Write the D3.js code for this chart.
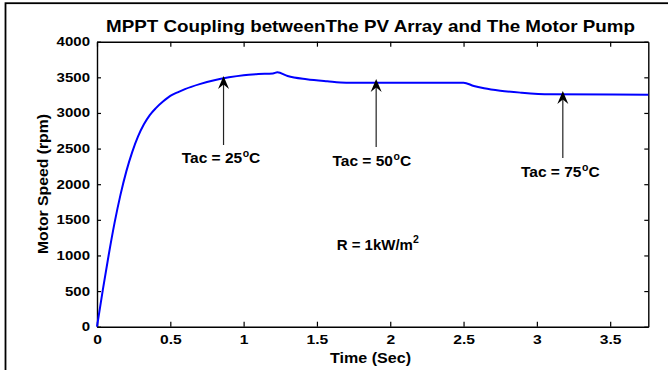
<!DOCTYPE html>
<html>
<head>
<meta charset="utf-8">
<script src="https://cdn.jsdelivr.net/npm/d3@7"></script>
<style>
  body { margin: 0; background: #fff; }
  text { font-family: "Liberation Sans", Arial, sans-serif; font-weight: bold; fill: #000; }
</style>
</head>
<body>
<svg id="mppt-chart" width="668" height="370"></svg>
<script>
//Motor speed response (time in sec, speed in rpm)
const timeSec = [0, 0.04, 0.08, 0.12, 0.16, 0.2, 0.24, 0.28, 0.32, 0.36, 0.4, 0.45, 0.5, 0.55, 0.6, 0.7, 0.8, 0.9, 1.0, 1.1, 1.2, 1.23, 1.3, 1.43, 1.57, 1.7, 2.0, 2.5, 2.57, 2.64, 2.75, 2.89, 3.09, 3.76];
const speedRpm = [0, 520, 1010, 1460, 1850, 2180, 2450, 2670, 2840, 2970, 3065, 3160, 3240, 3290, 3335, 3405, 3460, 3500, 3530, 3546, 3555, 3570, 3518, 3472, 3444, 3425, 3425, 3425, 3378, 3346, 3312, 3285, 3262, 3256];

//Tick labels
const xTicks = [0, 0.5, 1, 1.5, 2, 2.5, 3, 3.5];
const yTicks = [0, 500, 1000, 1500, 2000, 2500, 3000, 3500, 4000];

//Arrow annotations: where the arrow points (time, speed) and where its tail ends
const tacLabels = ['25', '50', '75'];
const tacTime = [0.863, 1.904, 3.177];
const tacTip = [3518, 3476, 3307];
const tacTail = [2550, 2522, 2368];

const titleText = 'MPPT Coupling betweenThe PV Array and The Motor Pump';

const svg = d3.select('#mppt-chart');

//Outer frame (only left and top edges show in the picture)
svg.append('rect')
    .attr('x', 5.5).attr('y', 3.2)
    .attr('width', 700).attr('height', 400)
    .attr('fill', 'none')
    .attr('stroke', '#000')
    .attr('stroke-width', 1.8);

const x = d3.scaleLinear().domain([0, 3.76]).range([97, 648.3]);
const y = d3.scaleLinear().domain([0, 4000]).range([326.7, 41.7]);

//stretch text horizontally like the original bitmap
function widen(sel, k) {
    sel.each(function() {
        const w = this.getComputedTextLength();
        d3.select(this).attr('textLength', w * k).attr('lengthAdjust', 'spacingAndGlyphs');
    });
}

//Axes, MATLAB style with inward ticks on all four sides
const axBottom = svg.append('g')
    .attr('transform', 'translate(0,' + y(0) + ')')
    .call(d3.axisBottom(x).tickValues(xTicks).tickFormat(d3.format('')).tickSizeInner(-5).tickSizeOuter(0).tickPadding(8));
const axTop = svg.append('g')
    .attr('transform', 'translate(0,' + y(4000) + ')')
    .call(d3.axisTop(x).tickValues(xTicks).tickFormat('').tickSizeInner(-5).tickSizeOuter(0));
const axLeft = svg.append('g')
    .attr('transform', 'translate(' + x(0) + ',0)')
    .call(d3.axisLeft(y).tickValues(yTicks).tickFormat(d3.format('d')).tickSizeInner(-4).tickSizeOuter(0).tickPadding(7));
const axRight = svg.append('g')
    .attr('transform', 'translate(' + x(3.76) + ',0)')
    .call(d3.axisRight(y).tickValues(yTicks).tickFormat('').tickSizeInner(-4).tickSizeOuter(0));

[axBottom, axTop, axLeft, axRight].forEach(function(g) {
    g.select('.domain').attr('stroke', '#000').attr('stroke-width', 1.4);
    g.selectAll('.tick line').attr('stroke', '#000').attr('stroke-width', 1.2);
    g.selectAll('.tick text')
        .attr('font-family', '"Liberation Sans", Arial, sans-serif')
        .attr('font-weight', 'bold')
        .attr('font-size', 12.5)
        .attr('fill', '#000');
});
widen(axBottom.selectAll('.tick text'), 1.25);
widen(axLeft.selectAll('.tick text'), 1.2);

//The speed curve
svg.append('path')
    .datum(d3.zip(timeSec, speedRpm))
    .attr('fill', 'none')
    .attr('stroke', '#0000ff')
    .attr('stroke-width', 2)
    .attr('stroke-linejoin', 'round')
    .attr('d', d3.line()
        .x(function(d) { return x(d[0]); })
        .y(function(d) { return y(d[1]); })
        .curve(d3.curveMonotoneX));

//Title and axis labels
svg.append('text')
    .attr('x', 370.5).attr('y', 32)
    .attr('text-anchor', 'middle')
    .attr('font-size', 16.5)
    .attr('textLength', 529)
    .attr('lengthAdjust', 'spacingAndGlyphs')
    .text(titleText);

svg.append('text')
    .attr('x', 370.5).attr('y', 363)
    .attr('text-anchor', 'middle')
    .attr('font-size', 15)
    .attr('textLength', 81)
    .attr('lengthAdjust', 'spacingAndGlyphs')
    .text('Time (Sec)');

svg.append('text')
    .attr('transform', 'translate(48,184) rotate(-90)')
    .attr('text-anchor', 'middle')
    .attr('font-size', 15.5)
    .attr('textLength', 140)
    .attr('lengthAdjust', 'spacingAndGlyphs')
    .text('Motor Speed (rpm)');

//Arrows
const arrows = svg.append('g');
tacLabels.forEach(function(lab, i) {
    const ax = x(tacTime[i]);
    arrows.append('line')
        .attr('x1', ax).attr('x2', ax)
        .attr('y1', y(tacTail[i])).attr('y2', y(tacTip[i]) + 8)
        .attr('stroke', '#222')
        .attr('stroke-width', 1.2);
    arrows.append('path')
        .attr('transform', 'translate(' + ax + ',' + y(tacTip[i]) + ')')
        .attr('d', 'M0,0 L5.5,13 L0,8.5 L-5.5,13 Z')
        .attr('fill', '#000');
});

//Labels under the arrows (left edge and baseline of each)
const labelPos = [[181.7, 162.7], [332.5, 166], [521, 176.7]];
tacLabels.forEach(function(lab, i) {
    const t = svg.append('text')
        .attr('x', labelPos[i][0]).attr('y', labelPos[i][1])
        .attr('font-size', 15.5);
    t.append('tspan').text('Tac = ' + lab);
    t.append('tspan').attr('font-size', 10.5).attr('dy', -6).attr('dx', 0.5).text('o');
    t.append('tspan').attr('dy', 6).text('C');
});

const rText = svg.append('text')
    .attr('x', 336.7).attr('y', 250)
    .attr('font-size', 15);
rText.append('tspan').text('R = 1kW/m');
rText.append('tspan').attr('font-size', 10.5).attr('dy', -7).text('2');
</script>
</body>
</html>
